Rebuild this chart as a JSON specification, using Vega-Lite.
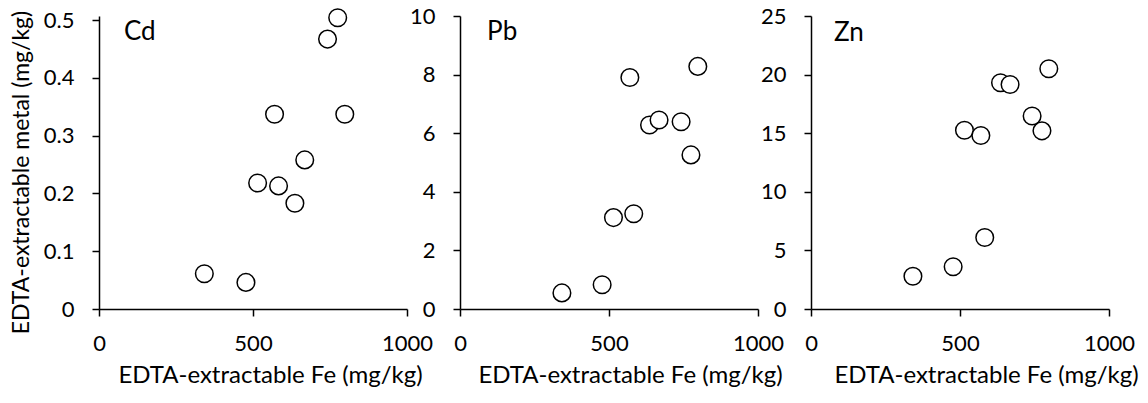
{
  "$schema": "https://vega.github.io/schema/vega-lite/v6.json",
  "background": "white",
  "padding": {"left": 10, "top": 5, "right": 5, "bottom": 5},
  "bounds": "flush",
  "spacing": 53,
  "config": {
    "font": "Lato",
    "view": {"stroke": null},
    "axis": {
      "grid": false,
      "domainColor": "black",
      "domainWidth": 1.5,
      "tickColor": "black",
      "tickWidth": 1.5,
      "tickSize": 7,
      "labelColor": "black",
      "labelFontSize": 22,
      "labelFont": "Lato",
      "titleColor": "black",
      "titleFontSize": 24,
      "titleFontWeight": "normal",
      "titleFont": "Lato"
    },
    "axisX": {"labelPadding": 17, "titlePadding": 9, "labelFlush": false, "labelOverlap": false, "labelBound": false},
    "axisY": {"labelPadding": 18, "titlePadding": 10, "titleFontSize": 23}
  },
  "datasets": {
    "pts": [
      {"metal": "Cd", "fe": 342, "value": 0.061},
      {"metal": "Cd", "fe": 477, "value": 0.046},
      {"metal": "Cd", "fe": 515, "value": 0.218},
      {"metal": "Cd", "fe": 570, "value": 0.337},
      {"metal": "Cd", "fe": 583, "value": 0.213},
      {"metal": "Cd", "fe": 636, "value": 0.183},
      {"metal": "Cd", "fe": 668, "value": 0.258},
      {"metal": "Cd", "fe": 742, "value": 0.467},
      {"metal": "Cd", "fe": 775, "value": 0.504},
      {"metal": "Cd", "fe": 798, "value": 0.337},
      {"metal": "Pb", "fe": 342, "value": 0.55},
      {"metal": "Pb", "fe": 477, "value": 0.83},
      {"metal": "Pb", "fe": 515, "value": 3.12},
      {"metal": "Pb", "fe": 570, "value": 7.9},
      {"metal": "Pb", "fe": 583, "value": 3.25},
      {"metal": "Pb", "fe": 636, "value": 6.28},
      {"metal": "Pb", "fe": 668, "value": 6.45},
      {"metal": "Pb", "fe": 742, "value": 6.39},
      {"metal": "Pb", "fe": 775, "value": 5.26},
      {"metal": "Pb", "fe": 798, "value": 8.28},
      {"metal": "Zn", "fe": 342, "value": 2.8},
      {"metal": "Zn", "fe": 477, "value": 3.6},
      {"metal": "Zn", "fe": 515, "value": 15.25},
      {"metal": "Zn", "fe": 570, "value": 14.8},
      {"metal": "Zn", "fe": 583, "value": 6.1},
      {"metal": "Zn", "fe": 636, "value": 19.3},
      {"metal": "Zn", "fe": 668, "value": 19.16},
      {"metal": "Zn", "fe": 742, "value": 16.47},
      {"metal": "Zn", "fe": 775, "value": 15.2},
      {"metal": "Zn", "fe": 798, "value": 20.5}
    ],
    "labels": [
      {"metal": "Cd", "fe": 81, "value": 0.479},
      {"metal": "Pb", "fe": 91, "value": 9.46},
      {"metal": "Zn", "fe": 77, "value": 23.58}
    ]
  },
  "hconcat": [
    {
      "width": 308,
      "height": 293,
      "layer": [
        {
          "data": {"name": "pts"},
          "transform": [{"filter": "datum.metal === 'Cd'"}],
          "mark": {"type": "point", "shape": "circle", "filled": false, "fill": "white", "fillOpacity": 1, "stroke": "black", "strokeWidth": 1.5, "size": 310, "opacity": 1},
          "encoding": {
            "x": {"field": "fe", "type": "quantitative", "scale": {"domain": [0, 1000], "nice": false}, "axis": {"values": [0, 500, 1000], "format": "d", "title": "EDTA-extractable Fe (mg/kg)", "titleX": 171}},
            "y": {"field": "value", "type": "quantitative", "scale": {"domain": [0, 0.507], "nice": false}, "axis": {"values": [0, 0.1, 0.2, 0.3, 0.4, 0.5], "format": "~g", "title": "EDTA-extractable metal (mg/kg)", "titleY": 156}}
          }
        },
        {
          "data": {"name": "labels"},
          "transform": [{"filter": "datum.metal === 'Cd'"}],
          "mark": {"type": "text", "align": "left", "baseline": "middle", "fontSize": 26, "font": "Lato", "color": "black"},
          "encoding": {
            "x": {"field": "fe", "type": "quantitative"},
            "y": {"field": "value", "type": "quantitative"},
            "text": {"field": "metal"}
          }
        }
      ]
    },
    {
      "width": 298,
      "height": 293,
      "layer": [
        {
          "data": {"name": "pts"},
          "transform": [{"filter": "datum.metal === 'Pb'"}],
          "mark": {"type": "point", "shape": "circle", "filled": false, "fill": "white", "fillOpacity": 1, "stroke": "black", "strokeWidth": 1.5, "size": 310, "opacity": 1},
          "encoding": {
            "x": {"field": "fe", "type": "quantitative", "scale": {"domain": [0, 1000], "nice": false}, "axis": {"values": [0, 500, 1000], "format": "d", "title": "EDTA-extractable Fe (mg/kg)", "titleX": 170}},
            "y": {"field": "value", "type": "quantitative", "scale": {"domain": [0, 10], "nice": false}, "axis": {"values": [0, 2, 4, 6, 8, 10], "format": "d", "title": null}}
          }
        },
        {
          "data": {"name": "labels"},
          "transform": [{"filter": "datum.metal === 'Pb'"}],
          "mark": {"type": "text", "align": "left", "baseline": "middle", "fontSize": 26, "font": "Lato", "color": "black"},
          "encoding": {
            "x": {"field": "fe", "type": "quantitative"},
            "y": {"field": "value", "type": "quantitative"},
            "text": {"field": "metal"}
          }
        }
      ]
    },
    {
      "width": 298,
      "height": 293,
      "layer": [
        {
          "data": {"name": "pts"},
          "transform": [{"filter": "datum.metal === 'Zn'"}],
          "mark": {"type": "point", "shape": "circle", "filled": false, "fill": "white", "fillOpacity": 1, "stroke": "black", "strokeWidth": 1.5, "size": 310, "opacity": 1},
          "encoding": {
            "x": {"field": "fe", "type": "quantitative", "scale": {"domain": [0, 1000], "nice": false}, "axis": {"values": [0, 500, 1000], "format": "d", "title": "EDTA-extractable Fe (mg/kg)", "titleX": 175}},
            "y": {"field": "value", "type": "quantitative", "scale": {"domain": [0, 25], "nice": false}, "axis": {"values": [0, 5, 10, 15, 20, 25], "format": "d", "title": null}}
          }
        },
        {
          "data": {"name": "labels"},
          "transform": [{"filter": "datum.metal === 'Zn'"}],
          "mark": {"type": "text", "align": "left", "baseline": "middle", "fontSize": 26, "font": "Lato", "color": "black"},
          "encoding": {
            "x": {"field": "fe", "type": "quantitative"},
            "y": {"field": "value", "type": "quantitative"},
            "text": {"field": "metal"}
          }
        }
      ]
    }
  ],
  "resolve": {"scale": {"y": "independent"}}
}
